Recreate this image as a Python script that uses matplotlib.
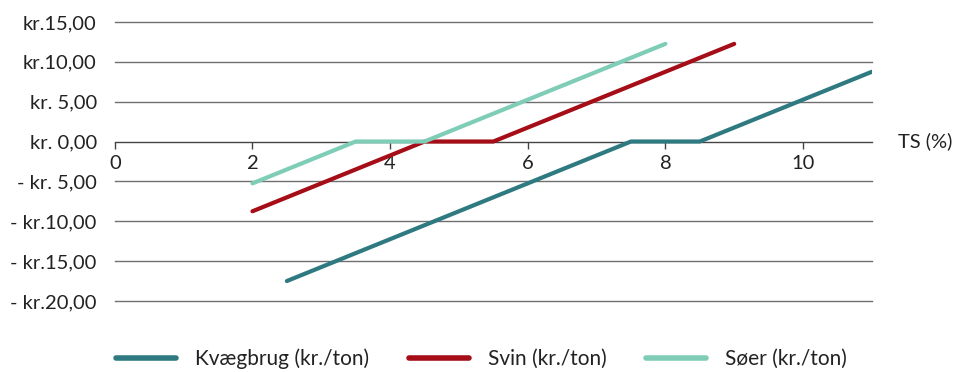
import matplotlib.pyplot as plt

plt.rcParams['font.family'] = ['Lato', 'DejaVu Sans']

# data (TS %, kr./ton)
kvaeg_x = [2.5, 7.5, 8.5, 11.0]
kvaeg_y = [-17.5, 0.0, 0.0, 8.75]
svin_x = [2.0, 4.5, 5.5, 9.0]
svin_y = [-8.75, 0.0, 0.0, 12.25]
soer_x = [2.0, 3.5, 4.5, 8.0]
soer_y = [-5.25, 0.0, 0.0, 12.25]

y_ticks = [15, 10, 5, 0, -5, -10, -15, -20]
y_labels = ['kr.15,00', 'kr.10,00', 'kr. 5,00', 'kr. 0,00',
            '- kr. 5,00', '- kr.10,00', '- kr.15,00', '- kr.20,00']
x_ticks = [0, 2, 4, 6, 8, 10]

fig = plt.figure(figsize=(9.57, 3.72), dpi=100)
ax = fig.add_axes([0.120, 0.191, 0.791, 0.750])

for y in y_ticks:
    if y != 0:
        ax.axhline(y, color='#6f6f6f', lw=1, zorder=1, clip_on=False)

ax.plot(kvaeg_x, kvaeg_y, color='#2e7a80', lw=3, solid_capstyle='round', label='Kvægbrug (kr./ton)', zorder=3)
ax.plot(svin_x, svin_y, color='#a50d17', lw=3, solid_capstyle='round', label='Svin (kr./ton)', zorder=3)
ax.plot(soer_x, soer_y, color='#7fcdb7', lw=3, solid_capstyle='round', label='Søer (kr./ton)', zorder=3)

ax.set_xlim(0, 11)
ax.set_ylim(-20, 15)

for s in ['top', 'right', 'left']:
    ax.spines[s].set_visible(False)
ax.spines['bottom'].set_position(('data', 0))
ax.spines['bottom'].set_color('#444444')
ax.spines['bottom'].set_linewidth(1)
ax.spines['bottom'].set_zorder(1)

ax.set_xticks(x_ticks)
ax.set_xticklabels([str(v) for v in x_ticks])
ax.tick_params(axis='x', direction='out', length=5, width=1, color='#444444',
               labelsize=14.5, labelcolor='#222222', pad=5)
ax.set_yticks(y_ticks)
ax.set_yticklabels(y_labels)
ax.tick_params(axis='y', length=0, labelsize=14.5, labelcolor='#222222', pad=13)

ax.text(1.034, 0, 'TS (%)', transform=ax.get_yaxis_transform(), fontsize=14.5,
        color='#222222', va='center', ha='left')

leg = fig.legend(loc='lower center', bbox_to_anchor=(0.503, -0.042), ncol=3, frameon=False,
                 fontsize=15, handlelength=2.9, handletextpad=0.9, columnspacing=1.9,
                 labelcolor='#222222')
for h in leg.get_lines():
    h.set_linewidth(4)
    h.set_solid_capstyle('round')

fig.savefig('out.png', dpi=100)
